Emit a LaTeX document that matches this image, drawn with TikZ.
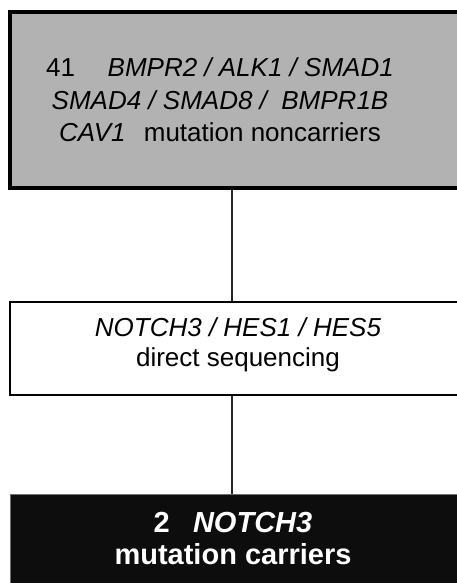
\documentclass[tikz,border=0pt]{standalone}
\usepackage{fontspec}
\setmainfont{Liberation Sans}
\usepackage{xcolor}
\definecolor{BoxGray}{RGB}{178,178,178}
\definecolor{BoxBlack}{RGB}{13,13,13}
\definecolor{EdgeGray}{RGB}{110,110,110}

\begin{document}
\begin{tikzpicture}[x=1pt,y=-1pt,
    flowbox/.style={rectangle,inner sep=0pt,minimum width=470pt},
    flowtext/.style={align=center,inner sep=0pt},
    link/.style={line width=2pt,draw=black!85}]
  \useasboundingbox (0,0) rectangle (456,583);
  % boxes
  \node[flowbox,draw,line width=4pt,fill=BoxGray,minimum height=176pt]
    (noncarriers) at (245,100) {};
  \node[flowbox,draw,line width=2.5pt,fill=white,minimum height=93pt]
    (sequencing) at (245,348.5) {};
  \node[flowbox,draw=EdgeGray,line width=1pt,fill=BoxBlack,minimum height=92pt]
    (carriers) at (245,540) {};
  % texts
  \node[flowtext,font=\fontsize{26}{32.5}\selectfont] (noncarrierstext) at (220,100) {%
    41\hspace{1.25em}\textit{BMPR2 / ALK1 / SMAD1}\\
    \textit{SMAD4 / SMAD8 / \ BMPR1B}\\
    \textit{CAV1}\hspace{0.7em}mutation noncarriers};
  \node[flowtext,font=\fontsize{26}{30}\selectfont] (sequencingtext) at (238,345) {%
    \textit{NOTCH3 / HES1 / HES5}\\
    direct sequencing};
  \node[flowtext,font=\fontsize{29}{32}\selectfont\bfseries,text=white]
    (carrierstext) at (233,539) {%
    2\hspace{0.8em}\textit{NOTCH3}\\
    mutation carriers};
  % connectors
  \draw[link] (noncarriers.south -| 232,0) -- (sequencing.north -| 232,0);
  \draw[link] (sequencing.south -| 232,0) -- (carriers.north -| 232,0);
\end{tikzpicture}
\end{document}
